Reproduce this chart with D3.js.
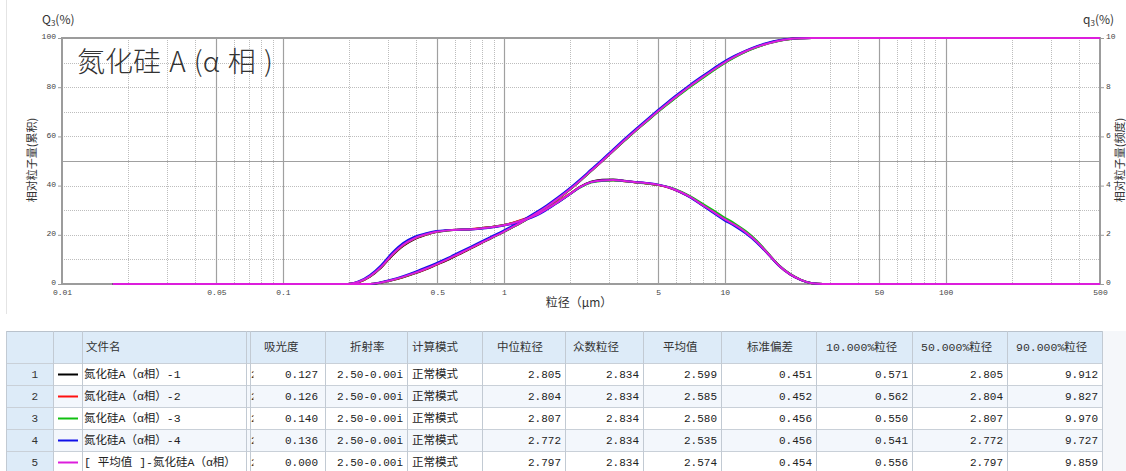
<!DOCTYPE html>
<html>
<head>
<meta charset="utf-8">
<script src="https://cdn.jsdelivr.net/npm/d3@7"></script>
<style>
  body { margin: 0; background: #fff; }
  svg { display: block; font-family: "Noto Sans CJK SC", "Noto Sans", sans-serif; }
</style>
</head>
<body>
<svg id="chart" width="1126" height="471"></svg>
<script>
// ---- particle size channels (µm) ----
const sizes = [0.017, 0.197, 0.221, 0.248, 0.278, 0.312, 0.350, 0.393, 0.441, 0.495,
  0.555, 0.623, 0.699, 0.784, 0.880, 0.988, 1.108, 1.244, 1.396, 1.566,
  1.757, 1.972, 2.213, 2.483, 2.786, 3.126, 3.508, 3.936, 4.417, 4.956,
  5.561, 6.240, 7.002, 7.856, 8.815, 9.891, 11.10, 12.45, 13.97, 15.68,
  17.59, 19.74, 22.15, 24.85, 27.89, 31.29, 500];

// ---- q3 frequency (%), right axis ----
const freq1 = [0, 0, 0.08, 0.30, 0.66, 1.15, 1.55, 1.82, 1.99, 2.11, 2.17, 2.21, 2.22, 2.27, 2.32, 2.39, 2.49, 2.63, 2.81, 3.05, 3.33, 3.63, 3.95, 4.16, 4.24, 4.25, 4.20, 4.14, 4.09, 4.03, 3.93, 3.76, 3.54, 3.25, 2.96, 2.66, 2.41, 2.11, 1.73, 1.25, 0.76, 0.41, 0.17, 0.03, 0, 0, 0];
const freq2 = [0, 0, 0.08, 0.31, 0.68, 1.17, 1.57, 1.84, 2.00, 2.12, 2.18, 2.21, 2.23, 2.27, 2.32, 2.39, 2.50, 2.65, 2.83, 3.08, 3.36, 3.65, 3.95, 4.14, 4.21, 4.22, 4.18, 4.13, 4.09, 4.03, 3.92, 3.75, 3.52, 3.23, 2.94, 2.65, 2.39, 2.09, 1.71, 1.23, 0.74, 0.39, 0.16, 0.03, 0, 0, 0];
const freq3 = [0, 0, 0.09, 0.32, 0.69, 1.19, 1.59, 1.85, 2.01, 2.12, 2.18, 2.21, 2.22, 2.26, 2.31, 2.38, 2.48, 2.62, 2.80, 3.04, 3.32, 3.62, 3.92, 4.12, 4.19, 4.21, 4.18, 4.13, 4.09, 4.04, 3.94, 3.78, 3.56, 3.29, 3.01, 2.72, 2.46, 2.15, 1.76, 1.26, 0.76, 0.41, 0.17, 0.03, 0, 0, 0];
const freq4 = [0, 0, 0.11, 0.36, 0.75, 1.26, 1.66, 1.91, 2.05, 2.15, 2.19, 2.21, 2.22, 2.25, 2.30, 2.37, 2.46, 2.60, 2.77, 3.02, 3.31, 3.62, 3.94, 4.14, 4.21, 4.23, 4.19, 4.15, 4.11, 4.05, 3.93, 3.75, 3.51, 3.21, 2.91, 2.61, 2.35, 2.05, 1.68, 1.22, 0.74, 0.39, 0.16, 0.03, 0, 0, 0];
const freqAvg = [0, 0, 0.09, 0.32, 0.69, 1.19, 1.59, 1.85, 2.01, 2.12, 2.18, 2.21, 2.22, 2.26, 2.31, 2.38, 2.48, 2.62, 2.80, 3.05, 3.33, 3.63, 3.94, 4.14, 4.21, 4.23, 4.19, 4.14, 4.10, 4.04, 3.93, 3.76, 3.53, 3.24, 2.95, 2.66, 2.40, 2.10, 1.72, 1.24, 0.75, 0.40, 0.17, 0.03, 0, 0, 0];

// ---- Q3 cumulative (%), left axis ----
const cum1 = [0, 0, 0, 0, 0.5, 1.5, 2.7, 4.2, 5.9, 7.8, 9.7, 11.9, 14.2, 16.4, 18.7, 20.9, 23.3, 25.8, 28.5, 31.4, 34.6, 38.1, 41.9, 45.9, 49.9, 54.1, 58.2, 62.2, 66.1, 69.9, 73.6, 77.1, 80.5, 83.7, 86.8, 89.7, 92.3, 94.5, 96.3, 97.8, 98.9, 99.6, 99.9, 100, 100, 100, 100];
const cum2 = [0, 0, 0, 0, 0.6, 1.6, 2.8, 4.3, 6.0, 7.9, 9.9, 12.1, 14.3, 16.5, 18.8, 21.0, 23.4, 25.9, 28.6, 31.5, 34.7, 38.2, 42.0, 46.0, 50.0, 54.2, 58.3, 62.3, 66.2, 70.0, 73.7, 77.3, 80.7, 83.9, 87.0, 89.9, 92.5, 94.7, 96.5, 97.9, 99.0, 99.6, 99.9, 100, 100, 100, 100];
const cum3 = [0, 0, 0, 0, 0.6, 1.6, 2.9, 4.4, 6.2, 8.1, 10.1, 12.3, 14.5, 16.7, 18.8, 21.0, 23.3, 25.8, 28.5, 31.4, 34.6, 38.1, 41.9, 45.9, 50.0, 54.1, 58.1, 62.1, 65.9, 69.7, 73.3, 76.8, 80.2, 83.4, 86.5, 89.5, 92.1, 94.4, 96.2, 97.7, 98.8, 99.5, 99.9, 100, 100, 100, 100];
const cum4 = [0, 0, 0, 0, 0.7, 1.8, 3.2, 4.8, 6.6, 8.5, 10.5, 12.7, 14.9, 17.1, 19.3, 21.5, 23.9, 26.4, 29.1, 32.0, 35.2, 38.7, 42.5, 46.5, 50.5, 54.7, 58.8, 62.8, 66.7, 70.5, 74.2, 77.7, 81.1, 84.3, 87.4, 90.3, 92.8, 94.9, 96.7, 98.1, 99.1, 99.7, 99.9, 100, 100, 100, 100];
const cumAvg = [0, 0, 0, 0, 0.6, 1.6, 2.9, 4.4, 6.1, 8.0, 10.0, 12.2, 14.4, 16.6, 18.8, 21.0, 23.4, 25.9, 28.6, 31.5, 34.7, 38.2, 42.0, 46.0, 50.0, 54.2, 58.3, 62.3, 66.2, 70.0, 73.7, 77.2, 80.6, 83.8, 86.9, 89.8, 92.4, 94.6, 96.4, 97.8, 98.9, 99.6, 99.9, 100, 100, 100, 100];

// ---- sample names and result table ----
const fileNames = ["氮化硅A（α相）-1", "氮化硅A（α相）-2", "氮化硅A（α相）-3", "氮化硅A（α相）-4", "[ 平均值 ]-氮化硅A（α相）"];
const absorbance = [0.127, 0.126, 0.140, 0.136, 0.000];
const refractiveIndex = ["2.50-0.00i", "2.50-0.00i", "2.50-0.00i", "2.50-0.00i", "2.50-0.00i"];
const calcMode = ["正常模式", "正常模式", "正常模式", "正常模式", "正常模式"];
const medianSize = [2.805, 2.804, 2.807, 2.772, 2.797];
const modeSize = [2.834, 2.834, 2.834, 2.834, 2.834];
const meanSize = [2.599, 2.585, 2.580, 2.535, 2.574];
const stdDev = [0.451, 0.452, 0.456, 0.456, 0.454];
const d10 = [0.571, 0.562, 0.550, 0.541, 0.556];
const d50 = [2.805, 2.804, 2.807, 2.772, 2.797];
const d90 = [9.912, 9.827, 9.970, 9.727, 9.859];

// ---- axis ticks ----
const xTickValues = [0.01, 0.05, 0.1, 0.5, 1, 5, 10, 50, 100, 500];
const xTickLabels = ["0.01", "0.05", "0.1", "0.5", "1", "5", "10", "50", "100", "500"];
const leftTicks = [0, 20, 40, 60, 80, 100];
const rightTicks = [0, 2, 4, 6, 8, 10];

const lineColors = ["#000000", "#ff1010", "#10c010", "#1010e8", "#dc1edc"];

const freqSeries = [freq1, freq2, freq3, freq4, freqAvg];
const cumSeries = [cum1, cum2, cum3, cum4, cumAvg];

const svg = d3.select("#chart");
const P = { l: 62, r: 1100, t: 38, b: 284 };
const x = d3.scaleLog().domain([0.01, 500]).range([P.l, P.r]);
const yL = d3.scaleLinear().domain([0, 100]).range([P.b, P.t]);
const yR = d3.scaleLinear().domain([0, 10]).range([P.b, P.t]);

// panel edge
svg.append("line").attr("x1", 6.5).attr("x2", 6.5).attr("y1", 0).attr("y2", 314)
  .attr("stroke", "#e4e4e4");

// ---- grid ----
const grid = svg.append("g");
const majorX = [0.05, 0.1, 0.5, 1, 5, 10, 50, 100];
const minorX = [];
[0.01, 0.1, 1, 10, 100].forEach(dec => {
  for (let m = 2; m <= 9; m++) {
    const v = +(dec * m).toPrecision(3);
    if (v < 500 && !majorX.includes(v)) minorX.push(v);
  }
});
grid.selectAll(".vminor").data(minorX).join("line")
  .attr("x1", d => Math.round(x(d)) + 0.5).attr("x2", d => Math.round(x(d)) + 0.5)
  .attr("y1", P.t).attr("y2", P.b)
  .attr("stroke", "#bdbdbd").attr("stroke-dasharray", "1,1");
grid.selectAll(".hminor").data([10, 20, 30, 40, 60, 70, 80, 90]).join("line")
  .attr("x1", P.l).attr("x2", P.r)
  .attr("y1", d => Math.round(yL(d)) + 0.5).attr("y2", d => Math.round(yL(d)) + 0.5)
  .attr("stroke", "#bdbdbd").attr("stroke-dasharray", "1,1");
grid.selectAll(".vmajor").data(majorX).join("line")
  .attr("x1", d => Math.round(x(d)) + 0.5).attr("x2", d => Math.round(x(d)) + 0.5)
  .attr("y1", P.t).attr("y2", P.b)
  .attr("stroke", "#a0a0a0").attr("stroke-width", 1.2);
grid.append("line")
  .attr("x1", P.l).attr("x2", P.r)
  .attr("y1", Math.round(yL(50)) + 0.5).attr("y2", Math.round(yL(50)) + 0.5)
  .attr("stroke", "#a0a0a0").attr("stroke-width", 1.2);

// frame
svg.append("rect").attr("x", P.l).attr("y", P.t).attr("width", P.r - P.l).attr("height", P.b - P.t)
  .attr("fill", "none").attr("stroke", "#9c9c9c").attr("stroke-width", 2);

// ---- axes ----
const tickFont = "'Liberation Mono', monospace";
const ax = svg.append("g").attr("transform", `translate(0,${P.b})`)
  .call(d3.axisBottom(x).tickValues(xTickValues)
    .tickFormat((d, i) => xTickLabels[i]).tickSize(0).tickPadding(5));
const axL = svg.append("g").attr("transform", `translate(${P.l},0)`)
  .call(d3.axisLeft(yL).tickValues(leftTicks).tickSize(4).tickPadding(2));
const axR = svg.append("g").attr("transform", `translate(${P.r},0)`)
  .call(d3.axisRight(yR).tickValues(rightTicks).tickSize(4).tickPadding(2));
[ax, axL, axR].forEach(g => {
  g.select(".domain").remove();
  g.selectAll(".tick line").attr("stroke", "#9c9c9c");
  g.selectAll(".tick text").attr("font-family", tickFont).attr("font-size", 8)
    .attr("fill", "#444");
});
axL.selectAll(".tick text").attr("dy", "0.1em");
axR.selectAll(".tick text").attr("dy", "0.1em");

// ---- axis titles ----
const qL = svg.append("text").attr("x", 42).attr("y", 24).attr("font-size", 12).attr("fill", "#333");
qL.append("tspan").text("Q");
qL.append("tspan").attr("font-size", 8).attr("dy", 2).text("3");
qL.append("tspan").attr("dy", -2).text("(%)");
const qR = svg.append("text").attr("x", 1083).attr("y", 24).attr("font-size", 12).attr("fill", "#333");
qR.append("tspan").text("q");
qR.append("tspan").attr("font-size", 8).attr("dy", 2).text("3");
qR.append("tspan").attr("dy", -2).text("(%)");

svg.append("text").attr("transform", "translate(36,160) rotate(-90)")
  .attr("text-anchor", "middle").attr("font-size", 11).attr("fill", "#333")
  .text("相对粒子量(累积)");
svg.append("text").attr("transform", "translate(1124,160) rotate(-90)")
  .attr("text-anchor", "middle").attr("font-size", 11).attr("fill", "#333")
  .text("相对粒子量(频度)");
svg.append("text").attr("x", 579).attr("y", 307).attr("text-anchor", "middle")
  .attr("font-size", 12).attr("fill", "#333").text("粒径（μm）");

// chart title
svg.append("text").attr("x", 77).attr("y", 72).attr("font-size", 28).attr("fill", "#333")
  .attr("font-weight", 300).attr("word-spacing", 2).text("氮化硅 A (α 相 )");

// ---- curves ----
const plot = svg.append("g");
const lineCum = d3.line().x((d, i) => x(sizes[i])).y(d => yL(d)).curve(d3.curveMonotoneX);
const lineFreq = d3.line().x((d, i) => x(sizes[i])).y(d => yR(d)).curve(d3.curveMonotoneX);
cumSeries.forEach((s, k) => {
  plot.append("path").attr("d", lineCum(s)).attr("fill", "none")
    .attr("stroke", lineColors[k]).attr("stroke-width", 2);
  plot.append("path").attr("d", lineFreq(freqSeries[k])).attr("fill", "none")
    .attr("stroke", lineColors[k]).attr("stroke-width", 2);
});

// ---- result table ----
const T = { top: 331, headH: 32, rowH: 22, left: 6, right: 1102 };
svg.append("rect").attr("x", T.right + 1).attr("y", T.top).attr("width", 1126 - T.right).attr("height", 471 - T.top)
  .attr("fill", "#f5f7fa");
const colEdges = [6, 53, 82, 246, 250, 325, 407, 482, 565, 643, 721, 816, 912, 1007, 1102];
const headers = [
  { t: "文件名", x: 86 }, { t: "吸光度", x: 264 }, { t: "折射率", x: 350 }, { t: "计算模式", x: 412 },
  { t: "中位粒径", x: 497 }, { t: "众数粒径", x: 573 }, { t: "平均值", x: 663 },
  { t: "标准偏差", x: 747 }, { t: "10.000%粒径", x: 826 }, { t: "50.000%粒径", x: 921 },
  { t: "90.000%粒径", x: 1016 }
];
const tbl = svg.append("g");
const nRows = fileNames.length;
const tableBottom = T.top + T.headH + nRows * T.rowH;
// header background
tbl.append("rect").attr("x", T.left).attr("y", T.top).attr("width", T.right - T.left).attr("height", T.headH)
  .attr("fill", "#ddebf8");
// row backgrounds
fileNames.forEach((n, i) => {
  tbl.append("rect").attr("x", T.left).attr("y", T.top + T.headH + i * T.rowH)
    .attr("width", T.right - T.left).attr("height", T.rowH)
    .attr("fill", i % 2 === 0 ? "#ffffff" : "#f3f7fc");
});
tbl.append("rect").attr("x", T.left).attr("y", T.top).attr("width", 53 - T.left).attr("height", tableBottom - T.top)
  .attr("fill", "#ddebf8");
// horizontal rules
d3.range(nRows + 1).forEach(i => {
  const yy = T.top + T.headH + i * T.rowH + 0.5;
  tbl.append("line").attr("x1", T.left).attr("x2", T.right).attr("y1", yy).attr("y2", yy).attr("stroke", "#c9d0d8");
});
tbl.append("line").attr("x1", T.left).attr("x2", T.right).attr("y1", T.top + 0.5).attr("y2", T.top + 0.5).attr("stroke", "#b9c2cc");
// vertical rules
colEdges.forEach(cx => {
  tbl.append("line").attr("x1", cx + 0.5).attr("x2", cx + 0.5).attr("y1", T.top).attr("y2", tableBottom)
    .attr("stroke", "#c2cad3");
});
// headers
headers.forEach(h => {
  tbl.append("text").attr("x", h.x).attr("y", T.top + T.headH / 2 + 4)
    .attr("font-family", "'Liberation Mono','Noto Sans CJK SC',monospace")
    .attr("font-size", 11.5).attr("fill", "#333").text(h.t);
});
// narrow hidden column sliver
const clip = svg.append("defs").append("clipPath").attr("id", "sliver");
clip.append("rect").attr("x", 250.5).attr("y", T.top).attr("width", 3).attr("height", tableBottom - T.top);

const bodyFont = "'Liberation Mono','Noto Sans CJK SC',monospace";
const numCols = [
  { vals: absorbance.map(v => v.toFixed(3)), right: 318 },
  { vals: refractiveIndex, right: 403 },
  { vals: medianSize.map(v => v.toFixed(3)), right: 561 },
  { vals: modeSize.map(v => v.toFixed(3)), right: 639 },
  { vals: meanSize.map(v => v.toFixed(3)), right: 717 },
  { vals: stdDev.map(v => v.toFixed(3)), right: 812 },
  { vals: d10.map(v => v.toFixed(3)), right: 908 },
  { vals: d50.map(v => v.toFixed(3)), right: 1003 },
  { vals: d90.map(v => v.toFixed(3)), right: 1098 }
];
fileNames.forEach((name, i) => {
  const cy = T.top + T.headH + i * T.rowH + T.rowH / 2;
  const base = cy + 4;
  tbl.append("text").attr("x", 38).attr("y", base).attr("text-anchor", "end")
    .attr("font-family", bodyFont).attr("font-size", 11).attr("fill", "#333").text(i + 1);
  tbl.append("line").attr("x1", 58).attr("x2", 78).attr("y1", cy + 0.5).attr("y2", cy + 0.5)
    .attr("stroke", lineColors[i]).attr("stroke-width", 2);
  tbl.append("text").attr("x", 84).attr("y", base)
    .attr("font-family", bodyFont).attr("font-size", 11.5).attr("fill", "#222").text(name);
  tbl.append("text").attr("x", 251).attr("y", base).attr("clip-path", "url(#sliver)")
    .attr("font-family", bodyFont).attr("font-size", 11).attr("fill", "#333").text("2");
  tbl.append("text").attr("x", 412).attr("y", base)
    .attr("font-family", bodyFont).attr("font-size", 11.5).attr("fill", "#222").text(calcMode[i]);
  numCols.forEach(c => {
    tbl.append("text").attr("x", c.right).attr("y", base).attr("text-anchor", "end")
      .attr("font-family", bodyFont).attr("font-size", 11).attr("fill", "#222").text(c.vals[i]);
  });
});
</script>
</body>
</html>
